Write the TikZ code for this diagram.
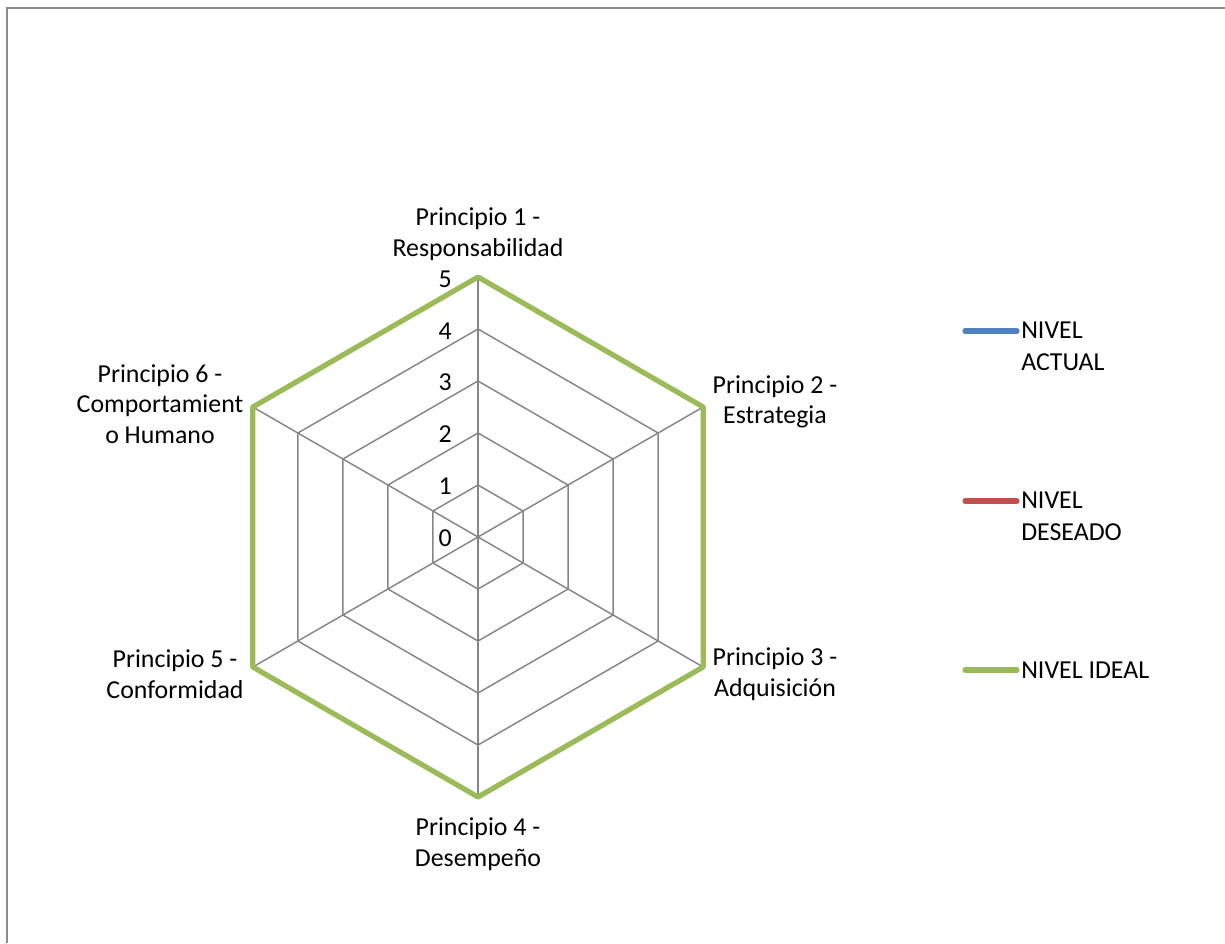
\documentclass[tikz,border=0pt]{standalone}
\usepackage{fontspec}
\setmainfont{Carlito}
\usetikzlibrary{calc}
\definecolor{gridgray}{HTML}{868686}
\definecolor{framegray}{HTML}{8C8C8C}
\definecolor{seriesblue}{HTML}{4F81BD}
\definecolor{seriesred}{HTML}{C0504D}
\definecolor{seriesgreen}{HTML}{9BBB59}
\tikzset{
  gridline/.style={draw=gridgray, line width=1.1pt},
  ideal/.style={draw=seriesgreen, line width=3.9pt, line join=round},
  axislabel/.style={align=center, inner sep=0pt},
  ticklabel/.style={anchor=east, inner sep=0pt},
  legendkey/.style={line width=3.9pt, line cap=round},
  legendtext/.style={anchor=west, align=left, inner sep=0pt,
    font=\fontsize{19.4}{24}\selectfont},
}
\begin{document}
\begin{tikzpicture}[x=0.75pt, y=0.75pt, font=\fontsize{19.4}{22.8}\selectfont]
  \useasboundingbox (0,0) rectangle (1225,-943);
  % chart area frame (only top and left edges show)
  \draw[framegray, line width=1.6pt] (7,-943) -- (7,-8) -- (1225,-8);

  % radar centre and the six axis end points at level 5
  \coordinate (c) at (478,-537);
  \foreach \k in {0,...,5}
    \coordinate (v\k) at ($(c)+({90-60*\k}:260)$);

  % spokes
  \foreach \k in {0,...,5}
    \draw[gridline] (c) -- (v\k);

  % rings for levels 1..5
  \foreach \r in {52,104,156,208,260}
    \draw[gridline] ($(c)+(90:\r)$) -- ($(c)+(30:\r)$) -- ($(c)+(-30:\r)$)
      -- ($(c)+(-90:\r)$) -- ($(c)+(-150:\r)$) -- ($(c)+(150:\r)$) -- cycle;

  % NIVEL IDEAL series (all principles at 5)
  \draw[ideal] (v0) -- (v1) -- (v2) -- (v3) -- (v4) -- (v5) -- cycle;

  % scale labels
  \foreach \n in {0,...,5}
    \node[ticklabel] (t\n) at (452,{-538+51.8*\n}) {\n};

  % axis labels
  \node[axislabel] (p1) at (478,-234) {Principio 1 -\\Responsabilidad};
  \node[axislabel] (p2) at (775,-402) {Principio 2 -\\Estrategia};
  \node[axislabel] (p3) at (775,-674) {Principio 3 -\\Adquisición};
  \node[axislabel] (p4) at (478,-844) {Principio 4 -\\Desempeño};
  \node[axislabel] (p5) at (175,-674) {Principio 5 -\\Conformidad};
  \node[axislabel] (p6) at (160,-404) {Principio 6 -\\Comportamient\\o Humano};

  % legend
  \coordinate (la1) at (965,-331); \coordinate (lb1) at (1017,-331);
  \coordinate (la2) at (965,-501); \coordinate (lb2) at (1017,-501);
  \coordinate (la3) at (965,-670); \coordinate (lb3) at (1017,-670);
  \draw[legendkey, seriesblue] (la1) -- (lb1);
  \draw[legendkey, seriesred] (la2) -- (lb2);
  \draw[legendkey, seriesgreen] (la3) -- (lb3);
  \node[legendtext, anchor=north west] (l1) at (1021,-322) {NIVEL\\ACTUAL};
  \node[legendtext, anchor=north west] (l2) at (1021,-492) {NIVEL\\DESEADO};
  \node[legendtext] (l3) at (1021,-670) {NIVEL IDEAL};
\end{tikzpicture}
\end{document}
